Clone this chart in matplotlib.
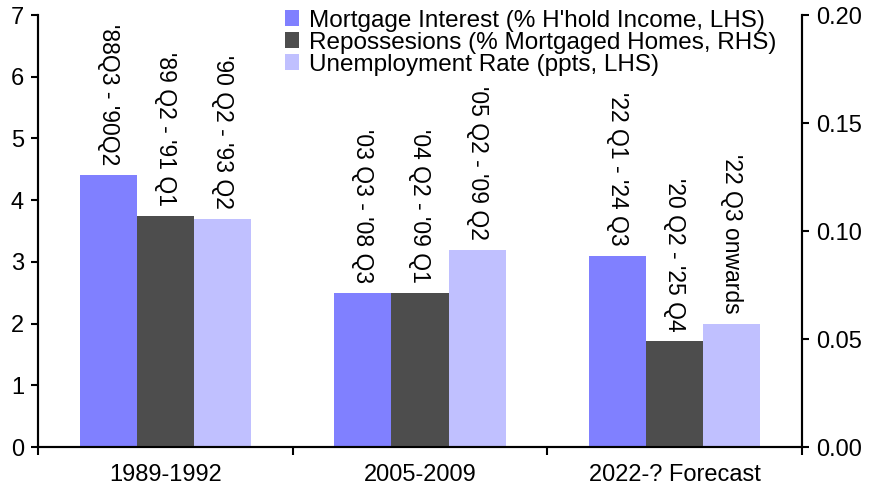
import matplotlib.pyplot as plt
import numpy as np

plt.rcParams['font.family'] = ['Liberation Sans', 'DejaVu Sans']

# Data
groups = ['1989-1992', '2005-2009', '2022-? Forecast']
mortgage = [4.4, 2.5, 3.1]          # LHS
repossessions = [0.107, 0.0715, 0.049]  # RHS
unemployment = [3.7, 3.2, 2.0]      # LHS

mortgage_labels = ["'88Q3 - '90Q2", "'03 Q3 - '08 Q3", "'22 Q1 - '24 Q3"]
repo_labels = ["'89 Q2 - '91 Q1", "'04 Q2 - '09 Q1", "'20 Q2 - '25 Q4"]
unemp_labels = ["'90 Q2 - '93 Q2", "'05 Q2 - '09 Q2", "'22 Q3 onwards"]

c_mort = '#8080FF'
c_repo = '#4D4D4D'
c_unemp = '#C0C0FF'

fig = plt.figure(figsize=(8.76, 4.88), dpi=100)
ax = fig.add_axes([38 / 876, 1 - 447 / 488, (802 - 38) / 876, (447 - 15) / 488])
ax2 = ax.twinx()

x = np.arange(len(groups))
w = 0.224

b1 = ax.bar(x - w, mortgage, w, color=c_mort, label="Mortgage Interest (% H'hold Income, LHS)", zorder=2)
b2 = ax2.bar(x, repossessions, w, color=c_repo, label='Repossesions (% Mortgaged Homes, RHS)', zorder=2)
b3 = ax.bar(x + w, unemployment, w, color=c_unemp, label='Unemployment Rate (ppts, LHS)', zorder=2)

ax.set_xlim(-0.5, 2.5)
ax.set_ylim(0, 7)
ax2.set_ylim(0, 0.20)
ax.set_yticks(range(0, 8))
ax2.set_yticks([0, 0.05, 0.10, 0.15, 0.20])
ax2.set_yticklabels(['0.00', '0.05', '0.10', '0.15', '0.20'])

ax.set_xticks(x)
ax.set_xticklabels(groups)
ax.set_xticks([-0.5, 0.5, 1.5, 2.5], minor=True)
ax.tick_params(axis='x', which='major', length=0, pad=12, labelsize=17)
ax.tick_params(axis='x', which='minor', length=6, width=1.5, direction='out')
ax.tick_params(axis='y', length=5, width=1.5, labelsize=17, pad=5)
ax2.tick_params(axis='y', length=5, width=1.5, labelsize=17, pad=5)

for a in (ax, ax2):
    a.spines['top'].set_visible(False)
    for s in ('left', 'right', 'bottom'):
        a.spines[s].set_linewidth(1.5)

# rotated period labels above bars
def add_labels(a, bars, labels):
    for bar, lab in zip(bars, labels):
        a.annotate(lab, (bar.get_x() + bar.get_width() / 2, bar.get_height()),
                   xytext=(0, 7), textcoords='offset points',
                   rotation=270, ha='center', va='bottom', fontsize=16.5)

add_labels(ax, b1, mortgage_labels)
add_labels(ax2, b2, repo_labels)
add_labels(ax, b3, unemp_labels)

handles = [b1, b2, b3]
ax2.legend(handles, [h.get_label() for h in handles], loc='upper left',
           bbox_to_anchor=(0.31, 1.035), frameon=False, fontsize=17.5,
           handlelength=0.6, handleheight=0.6, handletextpad=0.4,
           labelspacing=0.0, borderaxespad=0)

fig.savefig('out.png', dpi=100, facecolor='white')
